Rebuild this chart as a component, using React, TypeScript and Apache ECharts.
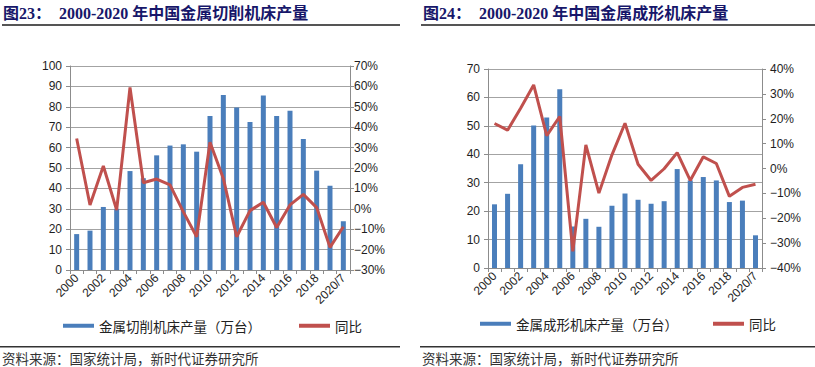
import React, { useEffect, useRef } from "react";
import * as echarts from "echarts";

const years = ["2000","2001","2002","2003","2004","2005","2006","2007","2008","2009","2010","2011","2012","2013","2014","2015","2016","2017","2018","2019","2020/7"];
const cuttingOutput = [17.6, 19.3, 30.9, 30.0, 48.5, 45.0, 56.2, 61.0, 61.6, 58.0, 75.5, 85.8, 79.6, 72.5, 85.6, 75.5, 78.1, 64.2, 48.7, 41.3, 23.9];
const cuttingYoy = [34.5, 1.9, 21.0, -0.6, 59.5, 12.8, 14.6, 11.7, -1.5, -13.7, 32.6, 14.9, -13.7, -0.9, 3.2, -9.2, 1.9, 7.1, 0.6, -18.9, -8.8];
const formingOutput = [22.4, 26.1, 36.5, 50.1, 52.9, 62.9, 14.6, 17.3, 14.5, 21.9, 26.2, 24.0, 22.6, 23.5, 34.8, 30.8, 32.0, 30.8, 23.2, 23.7, 11.5];
const formingYoy = [18.1, 15.4, 24.2, 33.6, 13.2, 20.9, -33.3, 9.5, -9.9, 5.5, 18.2, 1.7, -4.8, -0.1, 6.4, -4.8, 4.7, 2.0, -11.2, -7.6, -6.3];

const cuttingName = "金属切削机床产量（万台）";
const formingName = "金属成形机床产量（万台）";
const yoyName = "同比";
const title1 = "图23：  2000-2020 年中国金属切削机床产量";
const title2 = "图24：  2000-2020 年中国金属成形机床产量";
const source = "资料来源：国家统计局，新时代证券研究所";

const BLUE = "#4a7ebb";
const RED = "#c0504d";
const AXIS = "#8c8c8c";
const LABEL = "#1e1e1e";
const pct = (v: number) => (v < 0 ? "−" + Math.abs(v) + "%" : v + "%");

export default function App() {
  const ref = useRef<HTMLDivElement>(null);
  useEffect(() => {
    document.body.style.margin = "0";
    if (!ref.current) return;
    const chart = echarts.init(ref.current, undefined, { renderer: "svg" });
    const xAxisBase = (gridIndex: number) => ({
      type: "category",
      gridIndex,
      data: years,
      boundaryGap: true,
      axisLine: { lineStyle: { color: AXIS, width: 1 } },
      axisTick: { show: true, interval: 0, length: 4, lineStyle: { color: AXIS } },
      axisLabel: { interval: 1, rotate: 45, fontSize: 12, color: LABEL, fontFamily: "Liberation Sans", margin: 6 },
    });
    const yLeft = (gridIndex: number, max: number) => ({
      type: "value",
      gridIndex,
      position: "left",
      min: 0,
      max,
      interval: 10,
      axisLine: { show: true, lineStyle: { color: AXIS } },
      axisTick: { show: true, length: 4, lineStyle: { color: AXIS } },
      splitLine: { show: true, lineStyle: { color: "#a3a3a3", width: 1 } },
      axisLabel: { fontSize: 12, color: LABEL, fontFamily: "Liberation Sans", margin: 8 },
    });
    const yRight = (gridIndex: number, min: number, max: number, margin: number) => ({
      type: "value",
      gridIndex,
      position: "right",
      min,
      max,
      interval: 10,
      axisLine: { show: true, lineStyle: { color: AXIS } },
      axisTick: { show: true, length: 4, lineStyle: { color: AXIS } },
      splitLine: { show: false },
      axisLabel: { fontSize: 12, color: LABEL, fontFamily: "Liberation Sans", margin, formatter: pct },
    });
    const legendBase = (left: number, top: number, gap: number, name: string) => ({
      left,
      top,
      orient: "horizontal",
      itemWidth: 31,
      itemHeight: 4,
      itemGap: gap,
      selectedMode: false,
      textStyle: { fontSize: 13.5, color: "#222", fontFamily: "Noto Sans CJK SC" },
      data: [
        { name, icon: "rect" },
        { name: yoyName, icon: "rect" },
      ],
    });
    const option: any = {
      animation: false,
      grid: [
        { left: 70, top: 66, width: 280, height: 204 },
        { left: 488, top: 69, width: 274, height: 199 },
      ],
      xAxis: [xAxisBase(0), xAxisBase(1)],
      yAxis: [yLeft(0, 100), yRight(0, -30, 70, 4), yLeft(1, 70), yRight(1, -40, 40, 8)],
      legend: [legendBase(58, 314, 38, cuttingName), legendBase(475, 312, 35, formingName)],
      series: [
        { name: cuttingName, type: "bar", xAxisIndex: 0, yAxisIndex: 0, data: cuttingOutput, barWidth: 5, itemStyle: { color: BLUE }, color: BLUE },
        { name: yoyName, type: "line", xAxisIndex: 0, yAxisIndex: 1, data: cuttingYoy, showSymbol: false, symbol: "none", lineStyle: { color: RED, width: 3 }, itemStyle: { color: RED }, color: RED },
        { name: formingName, type: "bar", xAxisIndex: 1, yAxisIndex: 2, data: formingOutput, barWidth: 5, itemStyle: { color: BLUE }, color: BLUE },
        { name: yoyName, type: "line", xAxisIndex: 1, yAxisIndex: 3, data: formingYoy, showSymbol: false, symbol: "none", lineStyle: { color: RED, width: 3 }, itemStyle: { color: RED }, color: RED },
      ],
      graphic: [
        { type: "text", x: 3, y: 5, style: { text: title1, font: 'bold 16px "Liberation Serif", "Noto Sans CJK SC"', fill: "#17176a" } },
        { type: "text", x: 423, y: 5, style: { text: title2, font: 'bold 16px "Liberation Serif", "Noto Sans CJK SC"', fill: "#17176a" } },
        { type: "rect", shape: { x: 2, y: 24, width: 398, height: 2 }, style: { fill: "#555" } },
        { type: "rect", shape: { x: 421, y: 24, width: 394, height: 2 }, style: { fill: "#555" } },
        { type: "rect", shape: { x: 0, y: 346, width: 400, height: 1.5 }, style: { fill: "#333" } },
        { type: "rect", shape: { x: 420, y: 346, width: 395, height: 1.5 }, style: { fill: "#333" } },
        { type: "text", x: 2, y: 351, style: { text: source, font: '13.5px "Noto Sans CJK SC"', fill: "#333" } },
        { type: "text", x: 422, y: 351, style: { text: source, font: '13.5px "Noto Sans CJK SC"', fill: "#333" } },
      ],
    };
    chart.setOption(option);
    return () => chart.dispose();
  }, []);
  return <div ref={ref} style={{ width: 815, height: 367 }} />;
}
